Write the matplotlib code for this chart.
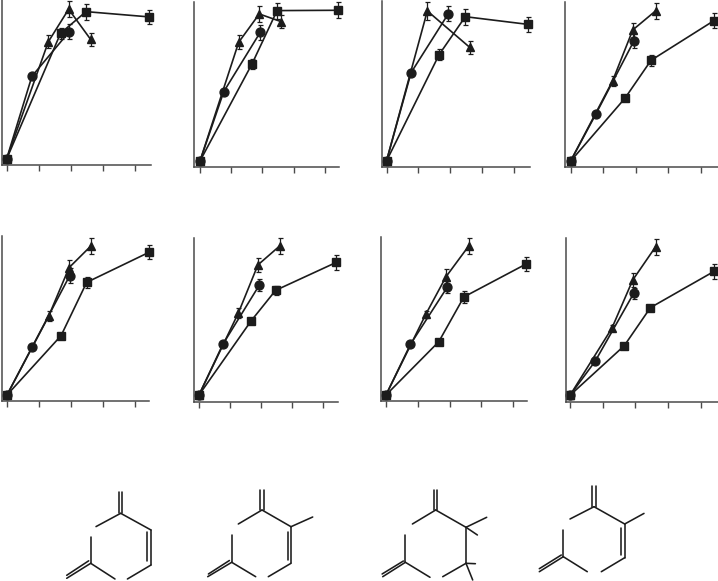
import numpy as np
from matplotlib import pyplot as plt

# series: x in tick units, y in percent of panel height
circle_x = [
    [0, 0.79, 1.95], [0, 0.76, 1.93], [0, 0.77, 1.94], [0, 0.78, 1.95],
    [0, 0.79, 1.96], [0, 0.77, 1.95], [0, 0.77, 1.93], [0, 0.77, 1.95],
]
circle_y = [
    [0, 51.9, 79.8], [0, 43.3, 80.4], [0, 55.2, 92.1], [0, 29.6, 75.4],
    [0, 30.2, 74.6], [0, 31.7, 68.8], [0, 31.7, 67.5], [0, 21.3, 63.8],
]
circle_err = [
    [0, 1.5, 4.5], [0, 1.5, 4.5], [0, 1, 4.5], [0, 1.5, 4.5],
    [0, 1, 4.5], [0, 1, 3.5], [0, 1, 3.5], [0, 1, 3.5],
]

triangle_x = [
    [0, 1.30, 1.93, 2.61], [0, 1.24, 1.90, 2.60], [0, 1.28, 2.61], [0, 1.29, 1.91, 2.61],
    [0, 1.30, 1.94, 2.63], [0, 1.27, 1.90, 2.60], [0, 1.25, 1.89, 2.60], [0, 1.28, 1.92, 2.62],
]
triangle_y = [
    [0, 73.5, 93.8, 75.0], [0, 74.2, 91.9, 87.1], [0, 93.8, 71.0], [0, 50.2, 82.1, 94.0],
    [0, 49.2, 79.6, 93.3], [0, 51.3, 81.3, 93.1], [0, 50.4, 74.0, 93.1], [0, 41.9, 72.1, 92.9],
]
triangle_err = [
    [0, 4, 5, 4], [0, 4.5, 5, 4], [0, 5.5, 4], [0, 3, 4.5, 5],
    [0, 3, 4.5, 5], [0, 3, 4.5, 5], [0, 2, 4.5, 5], [0, 2, 4.5, 5],
]

square_x = [
    [0, 1.68, 2.47, 4.43], [0, 1.67, 2.47, 4.41], [0, 1.65, 2.47, 4.43], [0, 1.67, 2.47, 4.40],
    [0, 1.69, 2.49, 4.44], [0, 1.68, 2.47, 4.43], [0, 1.66, 2.45, 4.39], [0, 1.66, 2.46, 4.41],
]
square_y = [
    [0, 78.8, 92.3, 89.0], [0, 60.8, 94.0, 94.2], [0, 66.5, 90.2, 85.4], [0, 39.4, 63.1, 87.9],
    [0, 37.1, 70.4, 89.2], [0, 46.3, 65.4, 82.9], [0, 33.3, 61.3, 81.7], [0, 31.0, 54.8, 77.5],
]
square_err = [
    [0, 3.5, 5, 4.5], [0, 3, 5, 5], [0, 3.5, 5, 4.5], [0, 1, 3.5, 4.5],
    [0, 1, 3.5, 4.5], [0, 1, 3, 4.5], [0, 1, 3.5, 4.5], [0, 1, 1.5, 4.5],
]

# panel frames in pixels of the 718x581 page
frame_left = [2, 194, 382, 565, 2, 194, 381, 566]
frame_right = [151, 339, 530, 718, 149, 338, 527, 718]
frame_top = [0, 2, 1, 2, 236, 238, 237, 238]
frame_bottom = [165, 166.5, 167, 167, 401, 401.5, 401, 402]
tick_first = [6.5, 200, 386.5, 570.5, 7, 199, 386, 570]
tick_step = [32.2, 31.2, 31.9, 32.6, 32.0, 31.0, 31.8, 32.7]
origin_row = [159.3, 161, 161, 161.3, 395, 395, 395, 395.3]
px_per_percent = 1.6

# ring drawings, bonds in pixels from the top ring carbon
structure_anchor = [(120.7, 513.3), (262, 510), (435.7, 510), (594, 506.7)]
structure_bonds = [
    [((-1.7, 0), (-1.7, -21)), ((1.7, 0), (1.7, -21)), ((0, 0), (-24.7, 13.3)), ((0, 0), (30.3, 16.7)),
     ((30.3, 16.7), (30.3, 51.7)), ((26.7, 19), (26.7, 47.7)), ((30.3, 51.7), (6.7, 65.7)),
     ((-30, 23.3), (-30, 50)), ((-30, 50), (-5.7, 65.7)), ((-30, 50), (-54, 65)), ((-32, 47.5), (-54, 62))],
    [((-1.7, 0), (-1.7, -20)), ((1.7, 0), (1.7, -20)), ((0, 0), (-23.7, 14)), ((0, 0), (29, 16.7)),
     ((29, 16.7), (50.7, 7)), ((29, 16.7), (29, 53.3)), ((26, 21.7), (26, 50)), ((29, 53.3), (6.3, 66.7)),
     ((-30.3, 25), (-30.3, 52.3)), ((-30.3, 52.3), (-6.3, 66.7)), ((-30.3, 52.3), (-54.3, 66.7)),
     ((-32.6, 50.5), (-53.6, 64))],
    [((-1.7, 0), (-1.7, -20)), ((1.7, 0), (1.7, -20)), ((0, 0), (-23.3, 14)), ((0, 0), (30.3, 17.3)),
     ((30.3, 17.3), (51, 7.3)), ((30.3, 17.3), (41.7, 25)), ((30.3, 17.3), (30.3, 53.3)),
     ((30.3, 53.3), (7, 66.7)), ((30.3, 53.3), (39.7, 53.7)), ((30.3, 53.3), (37, 70)),
     ((-30.3, 25), (-30.3, 52.3)), ((-30.3, 52.3), (-5.7, 67.3)), ((-30.3, 52.3), (-53, 66.7)),
     ((-32.3, 51), (-53.6, 64))],
    [((-1.7, 0), (-1.7, -21)), ((1.7, 0), (1.7, -21)), ((0, 0), (-24, 12.3)), ((0, 0), (30.7, 17.3)),
     ((30.7, 17.3), (50, 6.7)), ((30.7, 17.3), (30.7, 51)), ((26.7, 21.7), (26.7, 48.3)),
     ((30.7, 51), (7.3, 65)), ((-30.7, 23.3), (-30.7, 50)), ((-30.7, 50), (-6.7, 65)),
     ((-30.7, 50), (-54.7, 65)), ((-32.7, 48.3), (-54.7, 62))],
]

WIDTH, HEIGHT = 718, 581
INK = "#1c1c1c"
AXIS_INK = "#4a4a4a"


def draw_series(ax, x, y, err, marker, size):
    ax.errorbar(
        x, y, yerr=err, color=INK, marker=marker, markersize=size,
        linewidth=1.2, elinewidth=0.9, capsize=1.8, capthick=0.9, clip_on=False,
    )


fig = plt.figure(figsize=(WIDTH / 100, HEIGHT / 100), dpi=100)

for i in range(8):
    left, right = frame_left[i], frame_right[i]
    top, bottom = frame_top[i], frame_bottom[i]
    ax = fig.add_axes(
        [left / WIDTH, 1 - bottom / HEIGHT, (right - left) / WIDTH, (bottom - top) / HEIGHT]
    )
    ax.set_xlim((left - tick_first[i]) / tick_step[i], (right - tick_first[i]) / tick_step[i])
    ax.set_ylim(
        (origin_row[i] - bottom) / px_per_percent, (origin_row[i] - top) / px_per_percent
    )

    draw_series(ax, circle_x[i], circle_y[i], circle_err[i], "o", 6.4)
    draw_series(ax, triangle_x[i], triangle_y[i], triangle_err[i], "^", 6.0)
    draw_series(ax, square_x[i], square_y[i], square_err[i], "s", 6.2)

    ax.set_xticks(np.arange(5))
    ax.set_yticks([])
    ax.tick_params(axis="x", length=4.2, width=1.0, color=AXIS_INK, labelbottom=False)
    for side in ["top", "right"]:
        ax.spines[side].set_visible(False)
    for side in ["left", "bottom"]:
        ax.spines[side].set_color(AXIS_INK)
        ax.spines[side].set_linewidth(1.1)

# overlay in page pixels for the ring drawings
page = fig.add_axes([0, 0, 1, 1])
page.set_xlim(0, WIDTH)
page.set_ylim(HEIGHT, 0)
page.axis("off")
for anchor, bonds in zip(structure_anchor, structure_bonds):
    for start, end in bonds:
        page.plot(
            [anchor[0] + start[0], anchor[0] + end[0]],
            [anchor[1] + start[1], anchor[1] + end[1]],
            color=INK, linewidth=1.15, solid_capstyle="round",
        )

plt.savefig("out.png", dpi=100)
plt.close()
